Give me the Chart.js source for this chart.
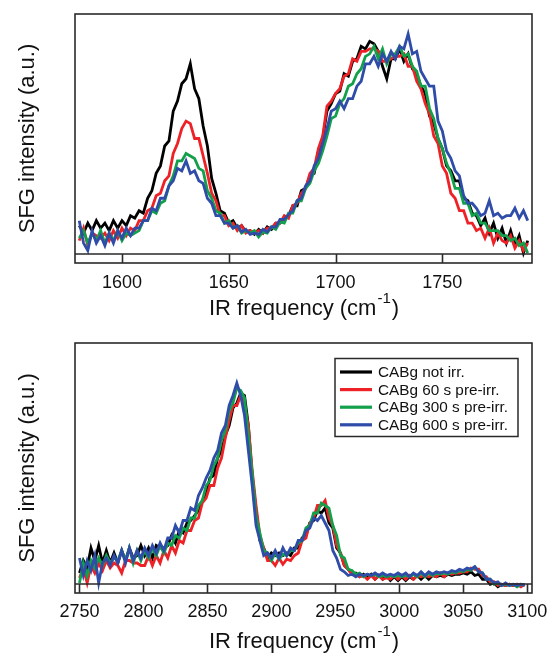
<!DOCTYPE html>
<html><head><meta charset="utf-8">
<script src="https://cdn.jsdelivr.net/npm/chart.js@4.4.1/dist/chart.umd.min.js"></script>
<style>
html,body{margin:0;padding:0;background:#fff;}
#wrap{position:relative;width:551px;height:656px;overflow:hidden;}
canvas{position:absolute;left:0;}
#cTop{top:0;}
#cBot{top:330px;}
</style></head><body>
<div id="wrap">
<canvas id="cTop" width="551" height="330"></canvas>
<canvas id="cBot" width="551" height="326"></canvas>
</div>
<script>
// ---------- DATA ----------
const seriesLabels = ['CABg not irr.', 'CABg 60 s pre-irr.', 'CABg 300 s pre-irr.', 'CABg 600 s pre-irr.'];
const seriesColors = ['#000000', '#ee2226', '#12a04b', '#2e4ca8'];

const topTicks = [1600, 1650, 1700, 1750];
const bottomTicks = [2750, 2800, 2850, 2900, 2950, 3000, 3050, 3100];

const topFreq = [
1580,1582,1584,1586,1588,1590,1592,1594,1596,1598,
1600,1602,1604,1606,1608,1610,1612,1614,1616,1618,
1620,1622,1624,1626,1628,1630,1632,1634,1636,1638,
1640,1642,1644,1646,1648,1650,1652,1654,1656,1658,
1660,1662,1664,1666,1668,1670,1672,1674,1676,1678,
1680,1682,1684,1686,1688,1690,1692,1694,1696,1698,
1700,1702,1704,1706,1708,1710,1712,1714,1716,1718,
1720,1722,1724,1726,1728,1730,1732,1734,1736,1738,
1740,1742,1744,1746,1748,1750,1752,1754,1756,1758,
1760,1762,1764,1766,1768,1770,1772,1774,1776,1778,
1780,1782,1784,1786,1788,1790];

const topNotIrr = [
15,12,16,13,17,14,16,13,17,14,
17,15,19,18,21,20,26,29,36,39,
47,49,61,65,72,74,80,70,66,55,
47,34,28,21,20,16,17,14,15,12.5,
13,11.5,13.5,12,14.5,13.5,16,16,18,19,
23,23,29,30,35,36,45,50,61,64,
68,69,76,75,81,82,87,86,89,88,
85,79,74,82,82,86,81,84,78,76,
71,68,59,56,50,46,39,37,33,33,
26,25,20,19,15,18,12,16,10,14,
8,13,7,11,4,9];

const top60s = [
9,14,7,12,11,10,12,9,13,10,
14,11,14,13,17,17,21,22,27,28,
33,35,44,48,54,57,56,50,50,43,
36,28,25,19,19,15,16,13,15,12,
13,12,13,12,14,14,16,16,19,18,
23,24,28,30,36,38,46,51,63,65,
68,70,75,76,82,81,85,85,86,86,
85,81,81,82,83,83,84,79,79,73,
70,64,60,51,48,39,36,28,26,21,
21,16,16,13,14,10,14,8,12,9,
8,11,6,9,5,8];

const top300s = [
10,13,8,12,9,13,8,12,9,13,
9,12,11,12,13,17,17,21,20,24,
25,31,35,41,41,44,43,42,38,37,
29,26,21,20,16,17,14,15,12,13,
12,13,10.5,12.5,12,14.5,13.5,16.5,16,20,
20,25,25,30,32,37,40,45,51,58,
59,64,66,71,72,76,78,83,84,87,
82,86,80,84,84,87,83,84,79,77,
71,71,62,58,50,46,40,36,30,30,
24,24,19,20,16,16,13,13,13,11,
11,9,10,7,8,4];

const top600s = [
17,8,5,13,8,11,7,12,8,13,
10,14,11,14,14,17,17,22,21,26,
26,31,33,38,37,41,36,37,33,32,
26,24,19,19,16,16,14,15,12.5,13.5,
11.5,12,11.5,13.5,12.5,14.5,14.5,17.5,17.5,19.5,
21,25,26,31,33,39,42,48,54,61,
62,65,62,66,66,71,73,80,80,83,
79,84,81,85,82,87,86,92,84,85,
77,74,71,71,57,53,45,42,37,35,
27,24,24,22,19,20,25,19,20,18,
19,19,22,18,21,17];

const bottomFreq = [
2750,2753,2756,2759,2762,2765,2768,2771,2774,2777,
2780,2783,2786,2789,2792,2795,2798,2801,2804,2807,
2810,2813,2816,2819,2822,2825,2828,2831,2834,2837,
2840,2843,2846,2849,2852,2855,2858,2861,2864,2867,
2870,2873,2876,2879,2882,2885,2888,2891,2894,2897,
2900,2903,2906,2909,2912,2915,2918,2921,2924,2927,
2930,2933,2936,2939,2942,2945,2948,2951,2954,2957,
2960,2963,2966,2969,2972,2975,2978,2981,2984,2987,
2990,2993,2996,2999,3002,3005,3008,3011,3014,3017,
3020,3023,3026,3029,3032,3035,3038,3041,3044,3047,
3050,3053,3056,3059,3062,3065,3068,3071,3074,3077,
3080,3083,3086,3089,3092,3095,3098];

const bottomNotIrr = [
8,13,10,18,13,19,12,17,12,16,
12,17,13,18,14,15,19,15,18,14,
19,18,18,19,23,20,25,24,28,29,
31,33,37,40,46,47,54,57,63,67,
74,76,80,79,67,47,33,21,18,14,
16,15,16,15,16,15,18,18,22,23,
28,29,33,32,34,28,26,18,16,11,
9.5,7.5,8,6.5,7.5,6,7.5,5.5,7,5.5,
7,5,6.5,5,6.5,5,6.5,5.5,7,5.5,
7,5.5,7,6.5,7,6.5,7.5,7,7.5,7.5,
8,7.5,8.5,7,7.5,5.5,5.5,3.5,4,2.5,
3.5,3,3.5,3,3.5,3,3.5];

const bottom60s = [
6,10,4,11,8,12,9,13,10,12,
11,8,13,13,12,12,11,11,15,11,
15,12,17,14,19,16,21,20,25,25,
29,30,36,38,43,43,50,54,62,69,
75,75,79,75,67,49,35,23,18,13,
13,11,14,11.5,13.5,13,15,16,21,22,
28,30,35,35,37,30,27,19,16,11,
9.5,7.5,7.5,6.5,7,5.5,7,5.5,7,5.5,
6,5.5,7,5.5,7,5.5,7,5.5,7,6.5,
7,6.5,7,6.5,8,6.5,8,7.5,8,8,
8.5,8.5,10,9.5,9.5,7,6.5,4.5,4.5,3,
3.5,3,3.5,3,3.5,2.5,3.5];

const bottom300s = [
4,12,7,13,10,14,11,15,12,14,
13,17,13,18,12,17,13,17,14,18,
15,19,16,20,19,23,22,26,25,30,
30,35,37,43,45,51,54,61,65,73,
76,82,81,78,63,48,31,24,17,16,
13,16,13.5,15.5,15,17,17,20,21,26,
27,32,32,36,35,34,27,23,15,14,
9.5,9,7.5,8,6.5,7.5,7,7.5,6.5,7,
6.5,7,6.5,7,6.5,7,6.5,7.5,6.5,8,
6.5,8,7,8,7.5,8,7.5,8.5,8,9,
8.5,9.5,9,10.5,8.5,8,5.5,5.5,3.5,4,
3,3.5,3,3.5,2.5,3.5,3];

const bottom600s = [
14,7,13,9,15,4,12,14,11,15,
12,17,12,18,13,17,14,18,15,19,
16,20,17,22,22,27,24,29,29,34,
33,39,42,46,49,54,57,64,67,75,
79,84,79,71,57,43,27,21,15,16,
14,17,14,18,15,18,17,21,21,25,
26,30,29,31,28,25,17,14,9.5,8.5,
7,7.5,6.5,7.5,7,7.5,7,8,7,8,
7,7.5,7,8,7,8,6.5,8,7,8.5,
7,8.5,7.5,8.5,8,8.5,8,9,8.5,9.5,
9,10,9.5,10.5,8.5,8,5.5,5.5,4,4.5,
3,4,3,3.5,3,3.5,3];

// ---------- DRAWING ----------
const FONT = '"Liberation Sans", Arial, Helvetica, sans-serif';
const FRAME = '#2a2a2a';

const framePlugin = {
  id: 'frame',
  afterDraw(chart) {
    const {ctx, chartArea: a} = chart;
    const xs = chart.scales.x;
    const tl = 9;
    ctx.save();
    ctx.strokeStyle = FRAME;
    ctx.lineWidth = 1.6;
    ctx.strokeRect(a.left, a.top, a.right - a.left, a.bottom - a.top);
    ctx.beginPath();
    ctx.moveTo(a.left, a.bottom - tl);
    ctx.lineTo(a.right, a.bottom - tl);
    xs.ticks.forEach(t => {
      const px = Math.round(xs.getPixelForValue(t.value)) + 0.5;
      ctx.moveTo(px, a.bottom);
      ctx.lineTo(px, a.bottom - tl);
    });
    ctx.stroke();
    ctx.restore();
  }
};

const titlePlugin = {
  id: 'titles',
  afterDraw(chart, args, opts) {
    const {ctx, chartArea: a} = chart;
    ctx.save();
    ctx.fillStyle = '#111';
    const main = 'IR frequency (cm', sup = '-1', close = ')';
    ctx.font = '22px ' + FONT;
    const w1 = ctx.measureText(main).width;
    const w3 = ctx.measureText(close).width;
    ctx.font = '15px ' + FONT;
    const w2 = ctx.measureText(sup).width;
    const cx = (a.left + a.right) / 2;
    const by = a.bottom + opts.xTitleOffset;
    let x0 = cx - (w1 + w2 + w3 + 1) / 2;
    ctx.textAlign = 'left';
    ctx.textBaseline = 'alphabetic';
    ctx.font = '22px ' + FONT;
    ctx.fillText(main, x0, by);
    ctx.font = '15px ' + FONT;
    ctx.fillText(sup, x0 + w1 + 1, by - 12);
    ctx.font = '22px ' + FONT;
    ctx.fillText(close, x0 + w1 + w2 + 2, by);
    ctx.translate(34, (a.top + a.bottom) / 2);
    ctx.rotate(-Math.PI / 2);
    ctx.textAlign = 'center';
    ctx.font = '22px ' + FONT;
    ctx.fillText('SFG intensity (a.u.)', 0, 0);
    ctx.restore();
  }
};

const legendPlugin = {
  id: 'boxLegend',
  afterDraw(chart, args, opts) {
    if (!opts.show) return;
    const {ctx} = chart;
    const bx = 335, by = 28.5, bw = 183, bh = 78;
    ctx.save();
    ctx.fillStyle = '#fff';
    ctx.fillRect(bx, by, bw, bh);
    ctx.strokeStyle = FRAME;
    ctx.lineWidth = 1.5;
    ctx.strokeRect(bx, by, bw, bh);
    ctx.font = '15.3px ' + FONT;
    ctx.textAlign = 'left';
    ctx.textBaseline = 'middle';
    chart.data.datasets.forEach((ds, i) => {
      const y = by + 13.5 + i * 17.6;
      ctx.strokeStyle = ds.borderColor;
      ctx.lineWidth = 3.2;
      ctx.beginPath();
      ctx.moveTo(bx + 5, y);
      ctx.lineTo(bx + 37, y);
      ctx.stroke();
      ctx.fillStyle = '#111';
      ctx.fillText(ds.label, bx + 43, y + 1);
    });
    ctx.restore();
  }
};

function makeChart(id, xs, series, xMin, xMax, ticks, padTop, axisH, tickPad, xTitleOffset, showLegend) {
  return new Chart(document.getElementById(id), {
    type: 'line',
    data: {
      datasets: series.map((vals, i) => ({
        label: seriesLabels[i],
        data: xs.map((x, j) => ({x: x, y: vals[j]})),
        borderColor: seriesColors[i],
        backgroundColor: seriesColors[i],
        borderWidth: 2.8,
        pointRadius: 0,
        tension: 0,
        fill: false,
        order: 4 - i
      }))
    },
    options: {
      responsive: false,
      animation: false,
      events: [],
      layout: {padding: {left: 75, right: 19, top: padTop, bottom: 0}},
      plugins: {
        legend: {display: false},
        tooltip: {enabled: false},
        titles: {xTitleOffset: xTitleOffset},
        boxLegend: {show: showLegend}
      },
      scales: {
        x: {
          type: 'linear',
          min: xMin,
          max: xMax,
          afterBuildTicks: s => { s.ticks = ticks.map(v => ({value: v})); },
          afterFit: s => { s.height = axisH; s.paddingLeft = 0; s.paddingRight = 0; },
          grid: {display: false, drawTicks: false},
          border: {display: false},
          ticks: {
            font: {family: FONT, size: 18},
            color: '#111',
            padding: tickPad,
            maxRotation: 0,
            autoSkip: false,
            callback: v => String(v)
          }
        },
        y: {display: false, min: 0, max: 100}
      }
    },
    plugins: [framePlugin, titlePlugin, legendPlugin]
  });
}

makeChart('cTop', topFreq, [topNotIrr, top60s, top300s, top600s],
  1578, 1792, topTicks, 14, 67, 9, 52, false);
makeChart('cBot', bottomFreq, [bottomNotIrr, bottom60s, bottom300s, bottom600s],
  2746.5, 3103.7, bottomTicks, 13, 63, 8, 55, true);
</script>
</body></html>
